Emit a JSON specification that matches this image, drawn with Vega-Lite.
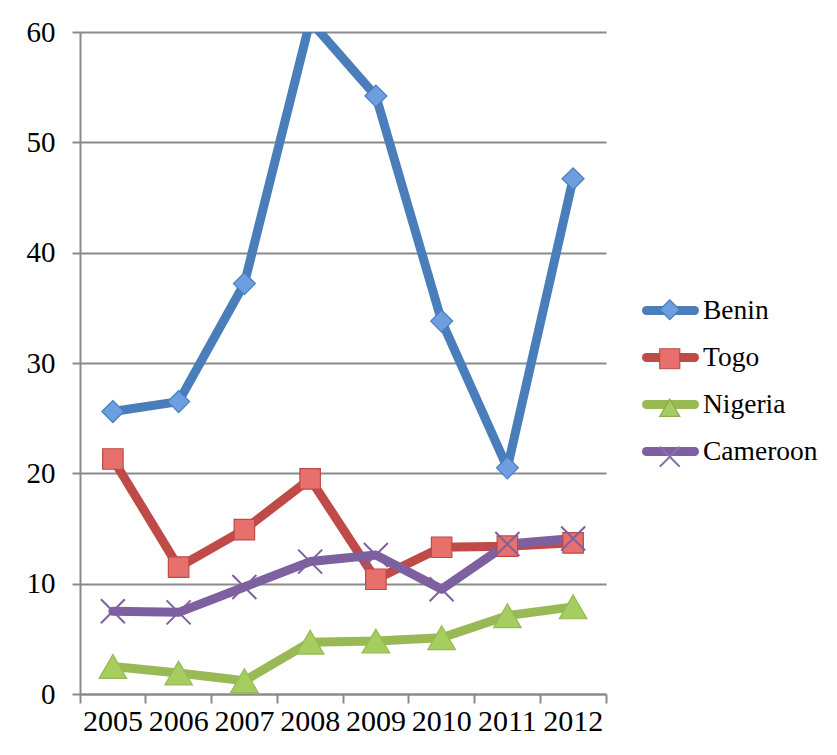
{
  "$schema": "https://vega.github.io/schema/vega-lite/v6.json",
  "width": 526,
  "height": 662,
  "autosize": {"type": "none"},
  "padding": {"left": 80, "top": 32, "right": 231, "bottom": 61},
  "background": "white",
  "config": {
    "font": "Liberation Serif",
    "view": {"stroke": null},
    "axis": {
      "labelFont": "Liberation Serif",
      "labelFontSize": 29,
      "labelColor": "black",
      "domainColor": "#8a8a8a",
      "domainWidth": 2,
      "tickColor": "#8a8a8a",
      "tickWidth": 2,
      "gridColor": "#8a8a8a",
      "gridWidth": 2,
      "title": null
    },
    "legend": {
      "labelFont": "Liberation Serif",
      "labelFontSize": 27.5,
      "labelColor": "black",
      "padding": 0,
      "title": null
    }
  },
  "data": {
    "values": [
      {"country": "Benin", "year": "2005", "value": 25.6},
      {"country": "Benin", "year": "2006", "value": 26.5},
      {"country": "Benin", "year": "2007", "value": 37.2},
      {"country": "Benin", "year": "2008", "value": 61},
      {"country": "Benin", "year": "2009", "value": 54.2},
      {"country": "Benin", "year": "2010", "value": 33.8},
      {"country": "Benin", "year": "2011", "value": 20.5},
      {"country": "Benin", "year": "2012", "value": 46.7},
      {"country": "Togo", "year": "2005", "value": 21.3},
      {"country": "Togo", "year": "2006", "value": 11.5},
      {"country": "Togo", "year": "2007", "value": 14.9},
      {"country": "Togo", "year": "2008", "value": 19.5},
      {"country": "Togo", "year": "2009", "value": 10.4},
      {"country": "Togo", "year": "2010", "value": 13.3},
      {"country": "Togo", "year": "2011", "value": 13.4},
      {"country": "Togo", "year": "2012", "value": 13.7},
      {"country": "Nigeria", "year": "2005", "value": 2.5},
      {"country": "Nigeria", "year": "2006", "value": 1.9},
      {"country": "Nigeria", "year": "2007", "value": 1.2},
      {"country": "Nigeria", "year": "2008", "value": 4.7},
      {"country": "Nigeria", "year": "2009", "value": 4.8},
      {"country": "Nigeria", "year": "2010", "value": 5.1},
      {"country": "Nigeria", "year": "2011", "value": 7.1},
      {"country": "Nigeria", "year": "2012", "value": 7.9},
      {"country": "Cameroon", "year": "2005", "value": 7.5},
      {"country": "Cameroon", "year": "2006", "value": 7.4},
      {"country": "Cameroon", "year": "2007", "value": 9.7},
      {"country": "Cameroon", "year": "2008", "value": 12.0},
      {"country": "Cameroon", "year": "2009", "value": 12.6},
      {"country": "Cameroon", "year": "2010", "value": 9.5},
      {"country": "Cameroon", "year": "2011", "value": 13.6},
      {"country": "Cameroon", "year": "2012", "value": 14.1}
    ]
  },
  "encoding": {
    "x": {
      "field": "year",
      "type": "ordinal",
      "scale": {"type": "band", "paddingInner": 0, "paddingOuter": 0},
      "axis": {
        "labelAngle": 0,
        "labelFontSize": 30,
        "bandPosition": 1,
        "tickExtra": true,
        "tickSize": 9,
        "labelPadding": 3,
        "grid": false
      }
    },
    "y": {
      "field": "value",
      "type": "quantitative",
      "scale": {"domain": [0, 60], "nice": false, "zero": true},
      "axis": {
        "values": [0, 10, 20, 30, 40, 50, 60],
        "tickSize": 8,
        "labelPadding": 17,
        "grid": true
      }
    }
  },
  "layer": [
    {
      "mark": {"type": "line", "strokeWidth": 9, "strokeJoin": "round", "strokeCap": "round", "clip": true},
      "encoding": {
        "detail": {"field": "country"},
        "stroke": {
          "field": "country",
          "type": "nominal",
          "scale": {
            "domain": ["Benin", "Togo", "Nigeria", "Cameroon"],
            "range": ["#4a7ebb", "#be4b48", "#98b954", "#7d60a0"]
          },
          "legend": {
            "orient": "none",
            "legendX": 576,
            "legendY": 264,
            "symbolType": "M-2.4,0H2.4",
            "symbolSize": 400,
            "symbolStrokeWidth": 9,
            "rowPadding": 10,
            "labelOffset": 18,
            "zindex": 0,
            "encode": {"symbols": {"update": {"strokeCap": {"value": "round"}}}}
          }
        }
      }
    },
    {
      "mark": {"type": "point", "filled": true, "opacity": 1, "clip": true},
      "encoding": {
        "stroke": {"field": "country", "type": "nominal", "legend": null},
        "fill": {
          "field": "country",
          "type": "nominal",
          "sort": ["Benin", "Togo", "Nigeria", "Cameroon"],
          "scale": {"range": ["#6d9ee0", "#e8706c", "#a6cd5f", "#8064a2"]},
          "legend": null
        },
        "shape": {
          "field": "country",
          "type": "nominal",
          "sort": ["Benin", "Togo", "Nigeria", "Cameroon"],
          "scale": {"range": ["diamond", "square", "triangle-up", "M-1,-1L1,1M-1,1L1,-1"]},
          "legend": {
            "orient": "none",
            "legendX": 576,
            "legendY": 264,
            "symbolSize": 400,
            "symbolFillColor": {"expr": "datum.value === 'Benin' ? '#6d9ee0' : datum.value === 'Togo' ? '#e8706c' : datum.value === 'Nigeria' ? '#a6cd5f' : 'transparent'"},
            "symbolStrokeColor": {"expr": "datum.value === 'Benin' ? '#4a7ebb' : datum.value === 'Togo' ? '#be4b48' : datum.value === 'Nigeria' ? '#8aab4c' : '#8a70b0'"},
            "symbolStrokeWidth": {"expr": "datum.value === 'Cameroon' ? 2 : 1.2"},
            "rowPadding": 20,
            "labelOffset": 18,
            "labelExpr": "''",
            "zindex": 1,
            "encode": {
              "symbols": {
                "update": {
                  "size": {"value": 200},
                  "opacity": {"value": 1}
                }
              }
            }
          }
        },
        "size": {
          "condition": [
            {"test": "datum.country === 'Benin'", "value": 484},
            {"test": "datum.country === 'Togo'", "value": 420},
            {"test": "datum.country === 'Nigeria'", "value": 760}
          ],
          "value": 576
        },
        "strokeWidth": {
          "condition": {"test": "datum.country === 'Cameroon'", "value": 2},
          "value": 1.2
        }
      }
    }
  ]
}
